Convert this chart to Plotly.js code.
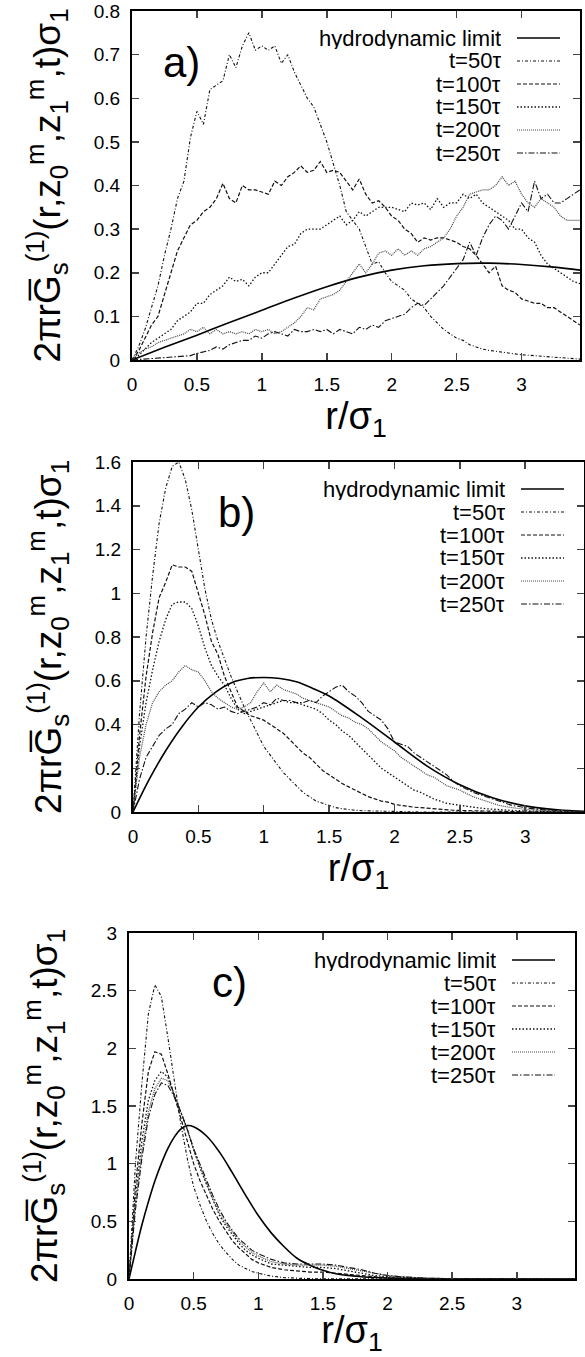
<!DOCTYPE html>
<html>
<head>
<meta charset="utf-8">
<script src="https://cdn.plot.ly/plotly-3.0.1.min.js"></script>
<style>html,body{margin:0;padding:0;background:#fff}#plot{width:585px;height:1357px}</style>
</head>
<body>
<div id="plot"></div>
<script>
// ---------- Data ----------
const seriesNames = ["hydrodynamic limit", "t=50τ", "t=100τ", "t=150τ", "t=200τ", "t=250τ"];
const panelLabels = ["a)", "b)", "c)"];
const xTickVals = [0, 0.5, 1, 1.5, 2, 2.5, 3];
const xTickText = ["0", "0.5", "1", "1.5", "2", "2.5", "3"];
const yTickValsA = [0, 0.1, 0.2, 0.3, 0.4, 0.5, 0.6, 0.7, 0.8];
const yTickTextA = ["0", "0.1", "0.2", "0.3", "0.4", "0.5", "0.6", "0.7", "0.8"];
const yTickValsB = [0, 0.2, 0.4, 0.6, 0.8, 1, 1.2, 1.4, 1.6];
const yTickTextB = ["0", "0.2", "0.4", "0.6", "0.8", "1", "1.2", "1.4", "1.6"];
const yTickValsC = [0, 0.5, 1, 1.5, 2, 2.5, 3];
const yTickTextC = ["0", "0.5", "1", "1.5", "2", "2.5", "3"];

// Panel a
const aHydroX = [0, 0.25, 0.5, 0.75, 1.0, 1.25, 1.5, 1.75, 2.0, 2.25, 2.5, 2.75, 3.0, 3.25, 3.45];
const aHydroY = [0, 0.029, 0.057, 0.086, 0.114, 0.142, 0.168, 0.19, 0.206, 0.216, 0.221, 0.222, 0.219, 0.213, 0.206];
const aGridX = [0,0.05,0.1,0.15,0.2,0.25,0.3,0.35,0.4,0.45,0.5,0.55,0.6,0.65,0.7,0.75,0.8,0.85,0.9,0.95,1.0,1.05,1.1,1.15,1.2,1.25,1.3,1.35,1.4,1.45,1.5,1.55,1.6,1.65,1.7,1.75,1.8,1.85,1.9,1.95,2.0,2.05,2.1,2.15,2.2,2.25,2.3,2.35,2.4,2.45,2.5,2.55,2.6,2.65,2.7,2.75,2.8,2.85,2.9,2.95,3.0,3.05,3.1,3.15,3.2,3.25,3.3,3.35,3.4,3.45];
const aT50 = [0,0.03,0.07,0.12,0.17,0.24,0.3,0.37,0.41,0.51,0.57,0.54,0.62,0.63,0.64,0.7,0.67,0.72,0.75,0.71,0.72,0.71,0.72,0.68,0.7,0.66,0.63,0.6,0.58,0.54,0.5,0.45,0.4,0.34,0.32,0.3,0.26,0.22,0.225,0.2,0.18,0.17,0.16,0.14,0.13,0.12,0.1,0.085,0.07,0.06,0.05,0.045,0.035,0.03,0.025,0.022,0.02,0.017,0.015,0.013,0.012,0.011,0.01,0.009,0.008,0.007,0.005,0.004,0.003,0.002];
const aT100 = [0,0.02,0.05,0.08,0.1,0.15,0.2,0.25,0.28,0.31,0.32,0.34,0.35,0.37,0.405,0.37,0.36,0.4,0.39,0.39,0.385,0.38,0.41,0.4,0.42,0.43,0.445,0.43,0.435,0.455,0.43,0.435,0.43,0.41,0.39,0.415,0.38,0.36,0.365,0.35,0.33,0.32,0.3,0.29,0.27,0.28,0.275,0.28,0.28,0.275,0.27,0.26,0.255,0.24,0.22,0.2,0.215,0.17,0.16,0.155,0.14,0.135,0.13,0.13,0.12,0.12,0.11,0.1,0.09,0.08];
const aT150 = [0,0.01,0.025,0.04,0.05,0.06,0.07,0.09,0.1,0.11,0.13,0.13,0.15,0.16,0.17,0.19,0.18,0.185,0.17,0.19,0.2,0.2,0.22,0.24,0.26,0.265,0.29,0.3,0.3,0.3,0.31,0.32,0.33,0.31,0.32,0.34,0.33,0.34,0.35,0.35,0.35,0.345,0.34,0.36,0.355,0.36,0.345,0.37,0.35,0.36,0.36,0.38,0.37,0.38,0.36,0.35,0.34,0.33,0.32,0.3,0.3,0.28,0.27,0.24,0.22,0.21,0.2,0.19,0.18,0.175];
const aT200 = [0,0.015,0.025,0.03,0.04,0.045,0.05,0.055,0.06,0.07,0.065,0.075,0.06,0.07,0.06,0.065,0.06,0.065,0.06,0.07,0.065,0.07,0.06,0.065,0.075,0.085,0.1,0.12,0.115,0.14,0.145,0.15,0.16,0.18,0.2,0.22,0.2,0.22,0.245,0.25,0.24,0.255,0.24,0.25,0.24,0.255,0.26,0.27,0.28,0.3,0.33,0.35,0.38,0.385,0.39,0.39,0.4,0.42,0.4,0.41,0.38,0.36,0.35,0.37,0.36,0.35,0.33,0.32,0.32,0.32];
const aT250 = [0,0.001,0.002,0.003,0.004,0.005,0.006,0.007,0.008,0.01,0.015,0.018,0.022,0.03,0.025,0.035,0.04,0.045,0.045,0.055,0.05,0.06,0.065,0.06,0.055,0.07,0.065,0.065,0.07,0.065,0.07,0.06,0.07,0.065,0.06,0.075,0.07,0.08,0.075,0.09,0.095,0.1,0.105,0.12,0.13,0.125,0.14,0.155,0.17,0.19,0.21,0.23,0.27,0.24,0.28,0.31,0.33,0.32,0.3,0.33,0.36,0.34,0.41,0.37,0.38,0.36,0.36,0.37,0.38,0.39];

// Panel b
const bHydroX = [0, 0.125, 0.25, 0.375, 0.5, 0.625, 0.75, 0.875, 1.0, 1.125, 1.25, 1.375, 1.5, 1.75, 2.0, 2.25, 2.5, 2.75, 3.0, 3.25, 3.45];
const bHydroY = [0, 0.15, 0.28, 0.39, 0.48, 0.545, 0.59, 0.61, 0.615, 0.61, 0.595, 0.565, 0.53, 0.43, 0.32, 0.21, 0.125, 0.065, 0.028, 0.01, 0.003];
const bGridX = [0,0.05,0.1,0.15,0.2,0.25,0.3,0.35,0.4,0.45,0.5,0.55,0.6,0.65,0.7,0.75,0.8,0.85,0.9,0.95,1.0,1.05,1.1,1.15,1.2,1.25,1.3,1.35,1.4,1.45,1.5,1.55,1.6,1.65,1.7,1.75,1.8,1.85,1.9,1.95,2.0,2.05,2.1,2.15,2.2,2.25,2.3,2.35,2.4,2.45,2.5,2.6,2.7,2.8,2.9,3.0,3.1,3.2,3.3,3.45];
const bT50 = [0,0.45,0.8,1.08,1.32,1.48,1.58,1.6,1.52,1.38,1.2,1.02,0.88,0.78,0.7,0.62,0.55,0.48,0.42,0.36,0.3,0.26,0.22,0.18,0.15,0.12,0.09,0.07,0.05,0.04,0.03,0.02,0.015,0.01,0.008,0.006,0.005,0.004,0.003,0.002,0.002,0.001,0.001,0.001,0,0,0,0,0,0,0,0,0,0,0,0,0,0,0,0];
const bT100 = [0,0.35,0.62,0.82,0.98,1.05,1.13,1.12,1.12,1.1,1.0,0.9,0.78,0.72,0.62,0.55,0.48,0.46,0.44,0.43,0.42,0.4,0.38,0.36,0.33,0.3,0.27,0.25,0.22,0.19,0.17,0.15,0.13,0.115,0.1,0.085,0.07,0.06,0.05,0.045,0.035,0.03,0.025,0.022,0.02,0.017,0.014,0.012,0.01,0.008,0.007,0.005,0.004,0.003,0.002,0.001,0.001,0,0,0];
const bT150 = [0,0.3,0.5,0.65,0.78,0.88,0.95,0.96,0.96,0.93,0.85,0.75,0.67,0.62,0.58,0.52,0.47,0.45,0.46,0.47,0.48,0.49,0.5,0.51,0.5,0.5,0.49,0.48,0.47,0.45,0.42,0.4,0.37,0.35,0.32,0.29,0.26,0.23,0.2,0.18,0.16,0.14,0.12,0.1,0.09,0.075,0.06,0.05,0.04,0.035,0.03,0.022,0.015,0.01,0.007,0.005,0.003,0.002,0.001,0];
const bT200 = [0,0.25,0.4,0.5,0.55,0.58,0.6,0.64,0.67,0.65,0.64,0.6,0.55,0.52,0.5,0.48,0.47,0.48,0.5,0.55,0.59,0.55,0.58,0.56,0.55,0.54,0.52,0.51,0.5,0.49,0.48,0.46,0.44,0.43,0.41,0.4,0.38,0.35,0.32,0.3,0.28,0.25,0.23,0.21,0.19,0.17,0.16,0.14,0.12,0.11,0.1,0.07,0.05,0.03,0.02,0.012,0.008,0.005,0.003,0.001];
const bT250 = [0,0.15,0.25,0.3,0.35,0.38,0.4,0.45,0.47,0.5,0.48,0.5,0.49,0.47,0.48,0.46,0.45,0.46,0.47,0.48,0.5,0.49,0.52,0.51,0.51,0.5,0.5,0.51,0.5,0.53,0.55,0.57,0.58,0.55,0.53,0.5,0.46,0.44,0.42,0.38,0.32,0.31,0.3,0.27,0.25,0.23,0.21,0.19,0.17,0.14,0.12,0.09,0.07,0.05,0.03,0.02,0.012,0.008,0.005,0.002];

// Panel c
const cHydroX = [0, 0.05, 0.1, 0.15, 0.2, 0.25, 0.3, 0.35, 0.4, 0.45, 0.5, 0.6, 0.7, 0.8, 0.9, 1.0, 1.1, 1.2, 1.3, 1.4, 1.5, 1.6, 1.8, 2.0, 2.5, 3.45];
const cHydroY = [0, 0.24, 0.47, 0.67, 0.85, 1.0, 1.13, 1.23, 1.3, 1.33, 1.32, 1.24, 1.1, 0.92, 0.73, 0.55, 0.4, 0.28, 0.18, 0.12, 0.075, 0.045, 0.02, 0.008, 0.001, 0];
const cGridX = [0,0.05,0.1,0.15,0.2,0.25,0.3,0.35,0.4,0.45,0.5,0.55,0.6,0.65,0.7,0.75,0.8,0.85,0.9,0.95,1.0,1.1,1.2,1.3,1.4,1.5,1.6,1.7,1.8,1.9,2.0,2.1,2.2,2.3,2.5,2.8,3.45];
const cT50 = [0,1.0,1.7,2.3,2.55,2.45,2.1,1.72,1.35,1.05,0.8,0.64,0.5,0.39,0.3,0.23,0.17,0.12,0.09,0.065,0.05,0.025,0.012,0.006,0.003,0.002,0.001,0,0,0,0,0,0,0,0,0,0];
const cT100 = [0,0.8,1.35,1.8,1.97,1.95,1.78,1.6,1.4,1.2,1.0,0.85,0.72,0.6,0.5,0.41,0.33,0.27,0.22,0.17,0.14,0.1,0.08,0.07,0.06,0.06,0.05,0.04,0.03,0.02,0.01,0.007,0.005,0.003,0.001,0,0];
const cT150 = [0,0.7,1.2,1.55,1.72,1.8,1.75,1.6,1.45,1.3,1.12,0.96,0.82,0.68,0.55,0.46,0.38,0.31,0.25,0.21,0.18,0.13,0.12,0.11,0.1,0.1,0.09,0.07,0.05,0.03,0.02,0.015,0.01,0.006,0.003,0.001,0];
const cT200 = [0,0.65,1.1,1.45,1.65,1.74,1.72,1.6,1.45,1.3,1.12,0.97,0.83,0.69,0.57,0.48,0.4,0.33,0.28,0.23,0.2,0.15,0.13,0.12,0.12,0.12,0.11,0.09,0.07,0.045,0.03,0.02,0.012,0.007,0.003,0.001,0];
const cT250 = [0,0.6,1.05,1.4,1.6,1.7,1.68,1.58,1.45,1.3,1.13,0.99,0.85,0.72,0.6,0.5,0.42,0.35,0.3,0.25,0.22,0.17,0.14,0.13,0.13,0.13,0.12,0.1,0.08,0.05,0.03,0.02,0.012,0.007,0.003,0.001,0];

// ---------- Styling ----------
const W = 585, H = 1357;
const FONT = "Liberation Sans, Arial, Helvetica, sans-serif";
const dashes = ["solid", "3px,2px,1px,2px", "4px,2px", "1.5px,2px", "1px,1px", "6px,2px,1.5px,2px"];
const colors = ["#000", "#111", "#111", "#111", "#444", "#111"];
const widths = [1.6, 1.1, 1.2, 1.3, 1.2, 1.1];

// panel pixel boxes: left, right, top, bottom
const boxes = [
  {l: 132, r: 580, t: 11, b: 360},
  {l: 133, r: 584, t: 462, b: 812},
  {l: 129, r: 575, t: 933, b: 1279}
];
const labelPos = [{x: 181, y: 63}, {x: 236, y: 512}, {x: 229, y: 982}];
const yRanges = [[0, 0.8], [0, 1.6], [0, 3]];
const yTicks = [[yTickValsA, yTickTextA], [yTickValsB, yTickTextB], [yTickValsC, yTickTextC]];

const panels = [
  {hx: aHydroX, hy: aHydroY, gx: aGridX, ys: [aT50, aT100, aT150, aT200, aT250]},
  {hx: bHydroX, hy: bHydroY, gx: bGridX, ys: [bT50, bT100, bT150, bT200, bT250]},
  {hx: cHydroX, hy: cHydroY, gx: cGridX, ys: [cT50, cT100, cT150, cT200, cT250]}
];

const traces = [];
panels.forEach((p, i) => {
  const xa = i === 0 ? "x" : "x" + (i + 1);
  const ya = i === 0 ? "y" : "y" + (i + 1);
  traces.push({x: p.hx, y: p.hy, xaxis: xa, yaxis: ya, mode: "lines", name: seriesNames[0],
    line: {color: colors[0], width: widths[0], dash: dashes[0], shape: "spline", smoothing: 1}, showlegend: false});
  p.ys.forEach((ys, k) => {
    traces.push({x: p.gx, y: ys, xaxis: xa, yaxis: ya, mode: "lines", name: seriesNames[k + 1],
      line: {color: colors[k + 1], width: widths[k + 1], dash: dashes[k + 1]}, showlegend: false});
  });
});

const yTitle = "2πrG\u0305<sub>s</sub><sup>(1)</sup>(r,z<sub>0</sub><sup>m</sup>,z<sub>1</sub><sup>m</sup>,t)σ<sub>1</sub>";
const xTitle = "r/σ<sub>1</sub>";

const layout = {
  width: W, height: H,
  margin: {l: 0, r: 0, t: 0, b: 0},
  paper_bgcolor: "#fff", plot_bgcolor: "#fff",
  font: {family: FONT, color: "#000"},
  showlegend: false,
  annotations: [], shapes: []
};

boxes.forEach((bx, i) => {
  const sfx = i === 0 ? "" : String(i + 1);
  layout["xaxis" + sfx] = {
    domain: [bx.l / W, bx.r / W], anchor: "y" + sfx, range: [0, 3.45],
    tickvals: xTickVals, ticktext: xTickText, ticks: "inside", ticklen: 7, tickwidth: 1.5,
    showline: true, linewidth: 2, linecolor: "#000", mirror: "ticks", showgrid: false, zeroline: false,
    tickfont: {size: 19, family: FONT}, ticklabelstandoff: 6,
    title: {text: xTitle, font: {size: 38, family: FONT}, standoff: 3}
  };
  layout["yaxis" + sfx] = {
    domain: [1 - bx.b / H, 1 - bx.t / H], anchor: "x" + sfx, range: yRanges[i],
    tickvals: yTicks[i][0], ticktext: yTicks[i][1], ticks: "inside", ticklen: 7, tickwidth: 1.5,
    showline: true, linewidth: 2, linecolor: "#000", mirror: "ticks", showgrid: false, zeroline: false,
    tickfont: {size: 19, family: FONT}, ticklabelstandoff: 6,
    title: {text: yTitle, font: {size: 37, family: FONT}, standoff: 22}
  };
  // panel label
  layout.annotations.push({xref: "paper", yref: "paper", x: labelPos[i].x / W, y: 1 - labelPos[i].y / H,
    text: panelLabels[i], showarrow: false, xanchor: "center", yanchor: "middle", font: {size: 42, family: FONT}});
  // legend
  const rowTop = bx.t + 27;
  seriesNames.forEach((nm, k) => {
    const ry = rowTop + k * 23;
    layout.annotations.push({xref: "paper", yref: "paper", x: (bx.r - 78) / W, y: 1 - ry / H,
      text: nm, showarrow: false, xanchor: "right", yanchor: "middle", height: 21, borderpad: 0,
      font: {size: 22, family: FONT}});
    layout.shapes.push({type: "line", xref: "paper", yref: "paper",
      x0: (bx.r - 63) / W, x1: (bx.r - 20) / W, y0: 1 - ry / H, y1: 1 - ry / H,
      line: {color: colors[k], width: widths[k], dash: dashes[k]}});
  });
});

Plotly.newPlot("plot", traces, layout, {staticPlot: true, displayModeBar: false});
</script>
</body>
</html>
